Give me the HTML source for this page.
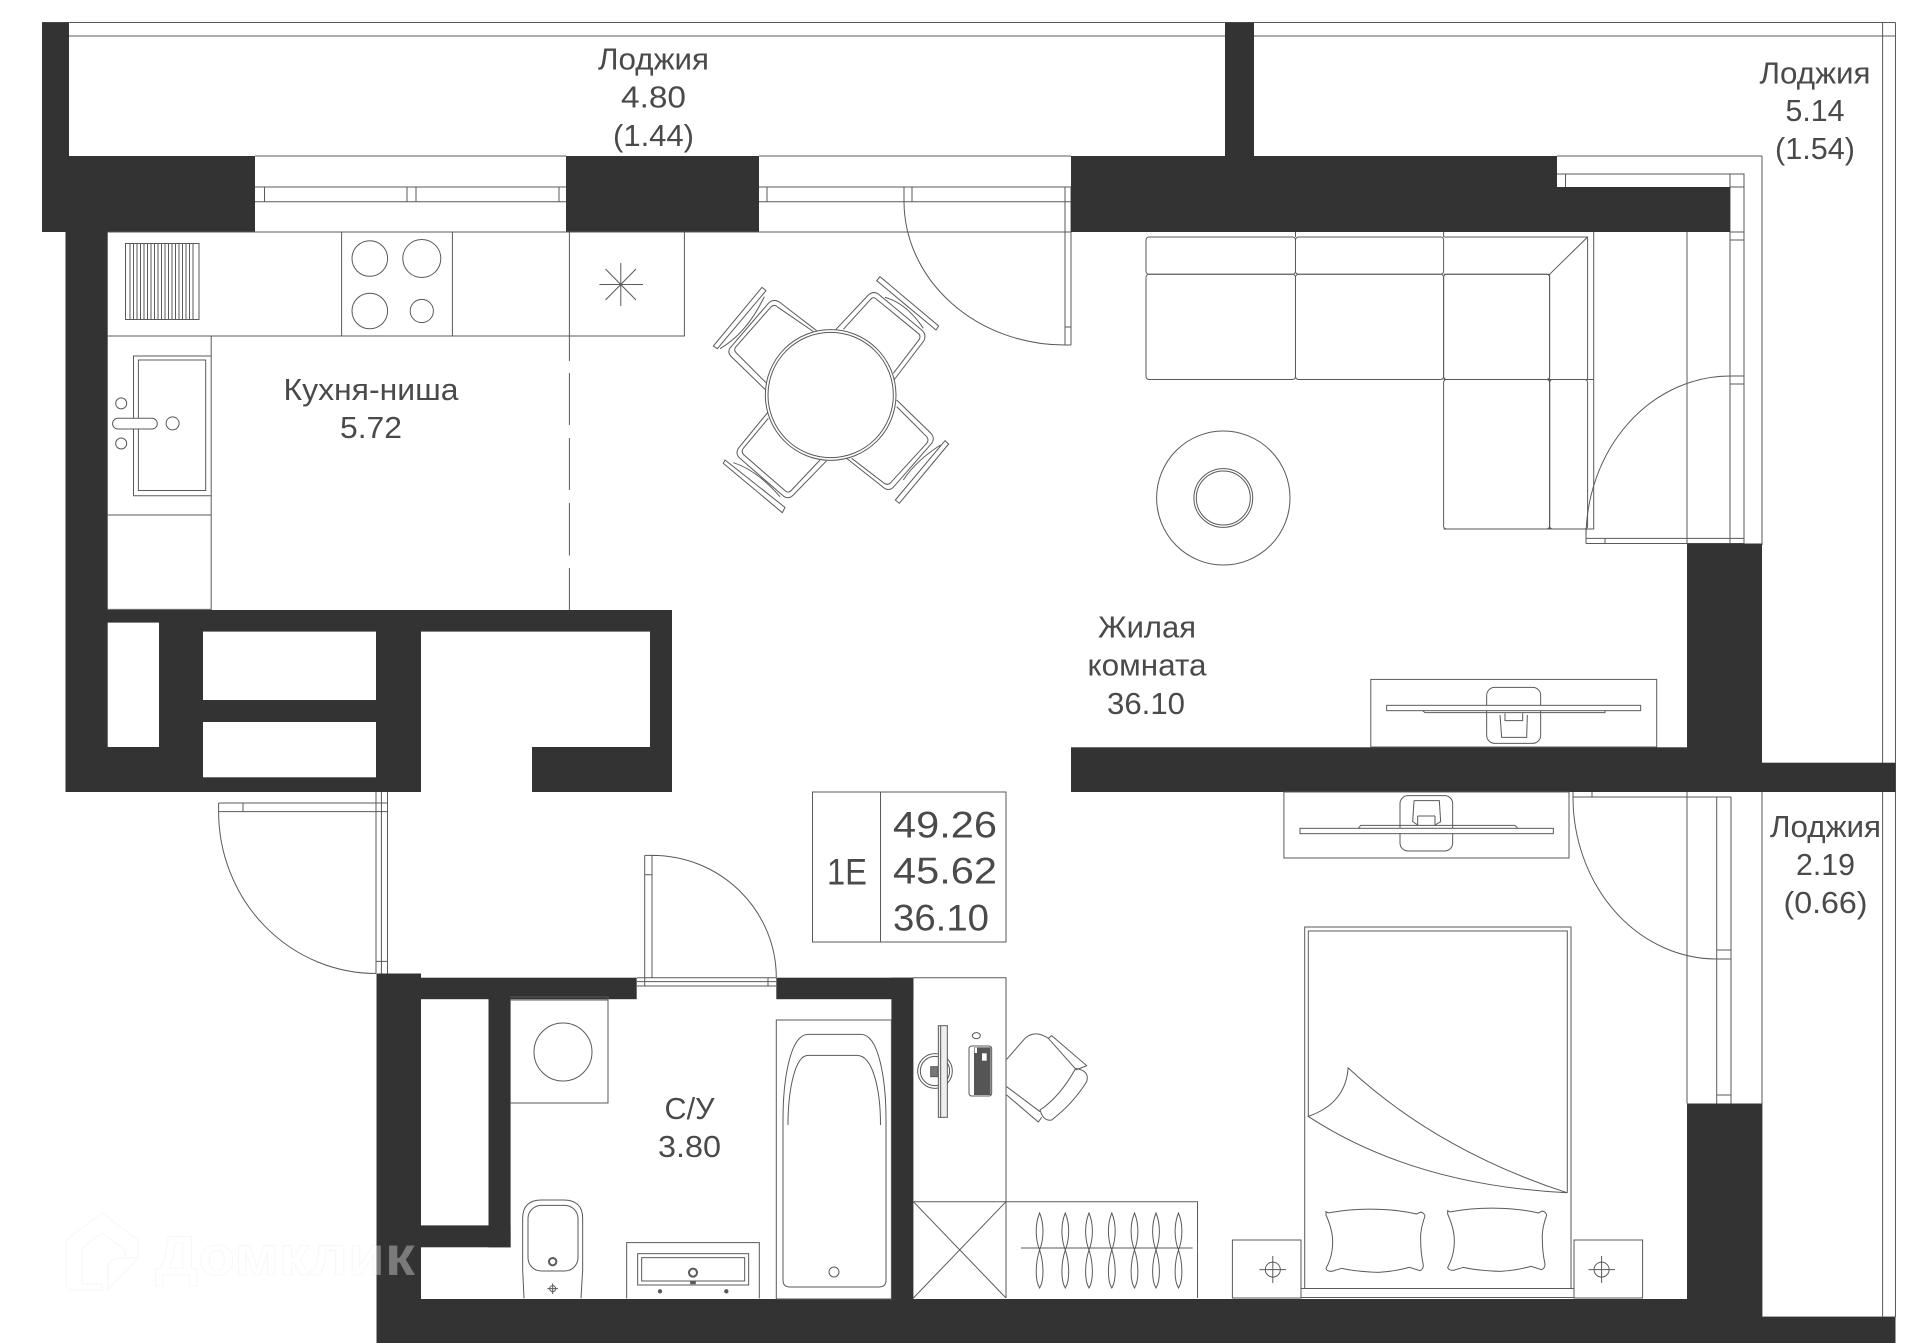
<!DOCTYPE html>
<html lang="ru"><head><meta charset="utf-8"><title>План квартиры</title>
<style>html,body{margin:0;padding:0;background:#fff}svg{display:block}
text{font-family:"Liberation Sans",sans-serif;font-size:30.5px;fill:#4a4a4a;text-anchor:middle}
.l{fill:none;stroke:#5a5a5a;stroke-width:1}.t{stroke-width:3}.w{fill:#333;stroke:none}</style></head><body>
<svg xmlns="http://www.w3.org/2000/svg" width="1920" height="1343" viewBox="0 0 1920 1343">
<rect width="1920" height="1343" fill="#fff"/>
<!-- loggia & window linework -->
<path class="l" d="M42 22.5H1895.5M42 36H1895.5M1882.6 22.5V1317M1895.5 22.5V1317M1762 792V1317H1895.5M1762 156V545M1557 156H1762M1557 174H1744V543.5M1730 174V543.5M1730 187H1744M1730 232H1744M1730 240H1744M1730 376H1744M1730 384H1744M1565.5 174V187M1687 232V543.5M1586 538.4H1744M1586 543.5H1744M1586 529V543.5M1605 538.4V543.5"/>
<path class="l" d="M255 156H566M759 156H1071M255 187H566M255 201.7H566M255 232H566M759 187H1071M759 201.7H1071M759 232H1071M264.5 187V201.7M407 187V201.7M416 187V201.7M559 187V201.7M767 187V201.7M904 187V201.7M912 187V201.7M1065 187V345M1071 187V345M1065 327H1071M1065 345H1071"/>
<path class="l" d="M904 201.7A161 144 0 0 0 1065 345M1730 376A144 162 0 0 0 1586 538M1716.7 959A143.7 162 0 0 1 1573 797"/>
<path class="l" d="M1687 792V1103.5M1716.7 797V1103.5M1731 797V1103.5M1573 792V797H1731M1592 792V797M1716.7 950H1731M1716.7 959H1731M1716.7 1095H1731"/>
<!-- entrance door -->
<path class="l" d="M376 792V973.5M381.4 792V973.5M387.5 792V973.5M376 961.4H387.5M218.6 803H387.5M218.6 811.6H387.5M218.6 803V811.6M243 803V811.6M218.6 811.6A157.4 162 0 0 0 376 973.5"/>
<!-- bathroom door -->
<path class="l" d="M644.7 855.4V977.7M652 855.4V977.7M644.7 855.4H652M644.7 874.7H652M637 977.7H776M637 981.6H776M637 986H776M644.7 977.7V986M768 977.7V986M652 855.4A124 122.3 0 0 1 776.3 977.7"/>
<!-- walls -->
<rect class="w" x="42" y="22.5" width="27" height="134"/>
<rect class="w" x="42" y="156" width="213" height="76"/>
<rect class="w" x="566" y="156" width="193" height="76"/>
<rect class="w" x="1225" y="22.5" width="29" height="134"/>
<rect class="w" x="1071" y="156" width="486" height="76"/>
<rect class="w" x="1557" y="187" width="173" height="45"/>
<rect class="w" x="65.5" y="232" width="42.2" height="378"/>
<rect class="w" x="65.5" y="610" width="355.5" height="182"/>
<rect x="107.7" y="622.6" width="51.3" height="124.4" fill="#fff"/>
<rect x="203" y="631.6" width="173" height="68.4" fill="#fff"/>
<rect x="203" y="722" width="173" height="55.3" fill="#fff"/>
<rect class="w" x="421" y="610" width="251" height="21.6"/>
<rect class="w" x="650" y="610" width="22" height="182"/>
<rect class="w" x="532" y="747" width="140" height="45"/>
<rect class="w" x="1071" y="747.3" width="691" height="44.7"/>
<rect class="w" x="1762" y="762.7" width="133.5" height="29.3"/>
<rect class="w" x="1687" y="543.5" width="75" height="204"/>
<rect class="w" x="1687" y="1103.5" width="75" height="196"/>
<rect class="w" x="376.5" y="1299" width="1385.5" height="44"/>
<rect class="w" x="1762" y="1317" width="133.5" height="26"/>
<rect class="w" x="376.5" y="973.5" width="44.5" height="326"/>
<rect class="w" x="421" y="977.7" width="215.7" height="21.5"/>
<rect class="w" x="776.3" y="977.7" width="137.1" height="21.5"/>
<rect class="w" x="891.4" y="977.7" width="22" height="321.3"/>
<rect class="w" x="488.5" y="999" width="22.1" height="248.3"/>
<rect class="w" x="421" y="1225.4" width="89.6" height="21.9"/>
<!-- kitchen -->
<path class="l" d="M107.7 232H1071M107.7 336H684.4V232M341.6 232V336M452.4 232V336M569.4 232V336"/>
<path class="l" d="M569.4 336V361M569.4 373V425M569.4 438V490M569.4 503V555.5M569.4 568V610"/>
<rect class="l" x="125.5" y="243.5" width="73.5" height="76"/>
<path class="l" d="M130 243.5V319.5M133.5 243.5V319.5M137 243.5V319.5M140.5 243.5V319.5M144 243.5V319.5M147.5 243.5V319.5M151 243.5V319.5M154.5 243.5V319.5M158 243.5V319.5M161.5 243.5V319.5M165 243.5V319.5M168.5 243.5V319.5M172 243.5V319.5M175.5 243.5V319.5M179 243.5V319.5M182.5 243.5V319.5M186 243.5V319.5M189.5 243.5V319.5M193 243.5V319.5"/>
<circle class="l" cx="369.8" cy="258.5" r="17.8"/><circle class="l" cx="421.8" cy="258.5" r="19"/><circle class="l" cx="369.8" cy="311" r="17.8"/><circle class="l" cx="421.8" cy="311" r="11.6"/>
<path class="l" d="M620.8 263V306M599.4 284.5H643M605.5 269L636 300M636 269L605.5 300"/>
<path class="l" d="M211.2 336V610M107.7 515H211.2M107.7 609.4H211.2M133.5 356H211.2V495.7H133.5ZM138.4 360H205.7V490.5H138.4Z"/>
<circle class="l" cx="121.2" cy="403.4" r="5.5"/><circle class="l" cx="121.2" cy="443.5" r="5.5"/><circle class="l" cx="172.6" cy="423.4" r="6.5"/>
<rect class="l" x="112.6" y="418.3" width="44.7" height="10.7" rx="5.3" fill="#fff" style="fill:#fff"/>
<!-- table and chairs -->
<g transform="translate(700 270) scale(.33333)" class="l t" style="stroke-width:3;fill:none;stroke:#5a5a5a">
<path d="M195 358L92 258Q82 246 90 234L205 100Q220 85 238 96L350 182M200 340L108 248Q100 240 108 230L212 112Q222 100 234 112L342 186M186 52L198 62L52 236L40 228ZM193 80Q140 190 60 236"/>
<path d="M408 178L505 75Q520 62 535 72L665 180Q680 192 672 212L582 330M430 178L512 88Q520 78 530 88L652 188Q664 196 658 208L580 310M540 20L716 168L708 180L530 32ZM555 82Q620 100 670 175"/>
<path d="M590 390L695 492Q705 506 695 520L580 652Q565 665 550 652L440 565M590 410L680 500Q688 510 680 520L572 638Q562 648 550 638L455 565M735 512L746 522L598 700L586 690ZM722 525Q650 570 610 630"/>
<path d="M205 425L115 535Q105 552 120 565L250 678Q265 690 280 675L380 572M205 445L130 535Q122 545 132 555L255 662Q265 672 275 660L360 570M75 570L255 712L247 728L70 580ZM100 578Q170 600 240 680"/>
<circle cx="392" cy="375" r="196" style="fill:#fff"/><circle cx="392" cy="375" r="188"/>
</g>
<!-- sofa -->
<path class="l" d="M1593.7 232V529H1443.6M1295.5 232V237M1443.6 232V237"/>
<g class="l">
<rect x="1146" y="237" width="149.5" height="37.3" rx="3"/><rect x="1295.5" y="237" width="148.1" height="37.3" rx="3"/>
<path d="M1443.6 237H1587.6V379.5M1443.6 274.3H1549.6L1587.6 237M1549.6 274.3V529"/>
<rect x="1146" y="274.3" width="149.5" height="105.2" rx="3"/><rect x="1295.5" y="274.3" width="148.1" height="105.2" rx="3"/>
<rect x="1443.6" y="274.3" width="106" height="105.2" rx="3"/><rect x="1549.6" y="379.5" width="38" height="149.5" rx="3"/>
<rect x="1443.6" y="379.5" width="106" height="149.5" rx="3"/>
<path d="M1443.6 379.5H1593.7"/>
<ellipse cx="1223.3" cy="498" rx="66.7" ry="67"/><circle cx="1223.3" cy="498" r="29.4"/><circle cx="1223.3" cy="498" r="27"/>
</g>
<!-- TVs -->
<rect class="l" x="1370.8" y="679.4" width="285.9" height="67.6"/>
<rect class="l" x="1283.9" y="792" width="285.1" height="66"/>
<g transform="translate(1370 680) scale(.33333)" style="fill:none;stroke:#5a5a5a;stroke-width:3">
<rect x="350" y="22" width="162" height="168" rx="24"/>
<path d="M405 100V122H458V100M390 105L395 172H470L472 105"/>
<rect x="50" y="76" width="762" height="16" style="fill:#fff"/>
<path d="M158 92L165 98H705V92"/>
<rect x="90" y="347" width="158" height="166" rx="24"/>
<path d="M132 362H208L212 425L195 435M132 362L128 425L143 435M143 408H195M143 408V437M195 408V437"/>
<rect x="-210" y="445" width="760" height="16" style="fill:#fff"/>
<path d="M-35 445L-28 436H435L443 445"/>
</g>
<!-- plaque -->
<path class="l" d="M812.5 792H1006V942H812.5ZM880.5 792V942"/>
<!-- bathroom -->
<path class="l" d="M510 997H608V1103H510M510 1000H608"/>
<circle class="l" cx="563" cy="1052" r="29"/>
<rect class="l" x="776.3" y="1020" width="115.1" height="279"/>
<path class="l" d="M783 1280V1120C783 1080 790 1034.4 808 1034.4H861C879 1034.4 886 1080 886 1120V1280Q886 1287 879 1287H790Q783 1287 783 1280ZM788 1125C788 1090 795 1055.4 808 1055.4H857C873 1055.4 880.5 1090 880.5 1125"/>
<circle class="l" cx="834" cy="1272" r="5"/>
<g transform="translate(500 1190) scale(.33333)" style="fill:none;stroke:#5a5a5a;stroke-width:3">
<path d="M72 325L68 240V85Q68 30 125 30H190Q248 30 248 85V240L243 325"/>
<rect x="84" y="46" width="150" height="197" rx="40"/>
<circle cx="158" cy="215" r="11" style="stroke-width:6"/>
<circle cx="158" cy="296" r="9"/><path d="M158 280V312M142 296H174"/>
<path d="M380 325V158H778V325"/>
<rect x="413" y="191" width="333" height="94"/><rect x="425" y="203" width="309" height="70"/>
<circle cx="579" cy="248" r="12" style="stroke-width:6"/>
<rect x="572" y="274" width="14" height="7" style="fill:#5a5a5a"/>
<circle cx="480" cy="304" r="5" style="fill:#5a5a5a"/><circle cx="679" cy="304" r="5" style="fill:#5a5a5a"/>
</g>
<!-- desk -->
<path class="l" d="M913.4 977.7H1006V1298M913.4 1201.7H1197.5V1298M913.4 1201.7L1006 1298M1006 1201.7L913.4 1298"/>
<g transform="translate(900 1000) scale(.33333)" style="fill:none;stroke:#5a5a5a;stroke-width:3">
<circle cx="105" cy="213" r="52"/><circle cx="105" cy="213" r="44"/>
<rect x="92" y="200" width="22" height="30" style="fill:#777"/>
<rect x="115" y="77" width="27" height="275" style="fill:#eee"/><path d="M122 77V352"/>
<ellipse cx="229" cy="107" rx="12" ry="9"/>
<rect x="207" y="138" width="68" height="150" rx="8" style="fill:#fff"/>
<rect x="222" y="142" width="50" height="143" style="fill:#555;stroke:none"/>
<rect x="224" y="143" width="7" height="16" style="fill:#fff;stroke:none"/><rect x="246" y="160" width="14" height="22" style="fill:#fff;stroke:none"/>
<path d="M320 178L375 115Q405 88 445 115L525 205M320 260L420 335M445 115L455 107L560 197L527 210M320 285L415 366L425 352"/>
<path d="M527 205Q570 212 560 245Q520 310 455 360Q430 365 420 330Q480 290 527 205Z"/>
</g>
<!-- wardrobe hangers -->
<path class="l" d="M1021 1248H1192.6"/>
<g class="l">
<path d="M1039.6 1213C1044.6 1225 1043.6 1240 1039.6 1250C1035.6 1262 1034.6 1280 1039.6 1288C1044.6 1280 1043.6 1262 1039.6 1250C1035.6 1240 1034.6 1225 1039.6 1213Z"/>
<path d="M1065.3 1213C1070.3 1225 1069.3 1240 1065.3 1250C1061.3 1262 1060.3 1280 1065.3 1288C1070.3 1280 1069.3 1262 1065.3 1250C1061.3 1240 1060.3 1225 1065.3 1213Z"/>
<path d="M1089 1213C1094 1225 1093 1240 1089 1250C1085 1262 1084 1280 1089 1288C1094 1280 1093 1262 1089 1250C1085 1240 1084 1225 1089 1213Z"/>
<path d="M1111.8 1213C1116.8 1225 1115.8 1240 1111.8 1250C1107.8 1262 1106.8 1280 1111.8 1288C1116.8 1280 1115.8 1262 1111.8 1250C1107.8 1240 1106.8 1225 1111.8 1213Z"/>
<path d="M1134.5 1213C1139.5 1225 1138.5 1240 1134.5 1250C1130.5 1262 1129.5 1280 1134.5 1288C1139.5 1280 1138.5 1262 1134.5 1250C1130.5 1240 1129.5 1225 1134.5 1213Z"/>
<path d="M1156 1213C1161 1225 1160 1240 1156 1250C1152 1262 1151 1280 1156 1288C1161 1280 1160 1262 1156 1250C1152 1240 1151 1225 1156 1213Z"/>
<path d="M1178.5 1213C1183.5 1225 1182.5 1240 1178.5 1250C1174.5 1262 1173.5 1280 1178.5 1288C1183.5 1280 1182.5 1262 1178.5 1250C1174.5 1240 1173.5 1225 1178.5 1213Z"/>
</g>
<!-- bed -->
<path class="l" d="M1304.7 1288.5V927H1571V1288.5M1308.3 1116.4V931H1567.3V1192.8M1301 1288.5H1574M1301 1297.5H1574M1308.3 1116.4Q1345.7 1103.5 1348.1 1067.9Q1437.5 1150.7 1567.3 1192.8Q1413 1185 1308.3 1116.4Z"/>
<rect class="l" x="1232.4" y="1240" width="68.6" height="58"/><rect class="l" x="1574" y="1240" width="68.6" height="58"/>
<circle class="l" cx="1272.8" cy="1269.6" r="7.5"/><path class="l" d="M1272.8 1256V1283M1259.5 1269.6H1286"/>
<circle class="l" cx="1601.6" cy="1269.6" r="7.5"/><path class="l" d="M1601.6 1256V1283M1588.5 1269.6H1615"/>
<g transform="translate(1320 1200) scale(.33333)" style="fill:none;stroke:#5a5a5a;stroke-width:3">
<path d="M18 35Q25 40 30 38Q100 25 180 28Q240 30 290 42L302 36Q312 38 315 48Q300 90 302 120Q302 160 310 195Q310 208 300 212L268 202Q220 215 175 217Q110 215 65 205L35 214Q20 214 18 205Q38 170 38 125Q38 90 18 45Z"/>
<path transform="translate(365 -3)" d="M18 35Q25 40 30 38Q100 25 180 28Q240 30 290 42L302 36Q312 38 315 48Q300 90 302 120Q302 160 310 195Q310 208 300 212L268 202Q220 215 175 217Q110 215 65 205L35 214Q20 214 18 205Q38 170 38 125Q38 90 18 45Z"/>
</g>
<!-- labels -->
<text x="653.5" y="69.6" textLength="111" lengthAdjust="spacingAndGlyphs">Лоджия</text>
<text x="653.5" y="107.7" textLength="65" lengthAdjust="spacingAndGlyphs">4.80</text>
<text x="653.5" y="146" textLength="81" lengthAdjust="spacingAndGlyphs">(1.44)</text>
<text x="371" y="400" textLength="175" lengthAdjust="spacingAndGlyphs">Кухня-ниша</text>
<text x="371" y="438" textLength="62" lengthAdjust="spacingAndGlyphs">5.72</text>
<text x="1815" y="83.5" textLength="111" lengthAdjust="spacingAndGlyphs">Лоджия</text>
<text x="1815" y="121" textLength="59" lengthAdjust="spacingAndGlyphs">5.14</text>
<text x="1815" y="159" textLength="80" lengthAdjust="spacingAndGlyphs">(1.54)</text>
<text x="1147" y="637.5" textLength="98" lengthAdjust="spacingAndGlyphs">Жилая</text>
<text x="1147" y="675.7" textLength="119" lengthAdjust="spacingAndGlyphs">комната</text>
<text x="1146" y="713.9" textLength="78" lengthAdjust="spacingAndGlyphs">36.10</text>
<text x="1825.5" y="837" textLength="111" lengthAdjust="spacingAndGlyphs">Лоджия</text>
<text x="1825.5" y="875" textLength="59" lengthAdjust="spacingAndGlyphs">2.19</text>
<text x="1825.5" y="913" textLength="84" lengthAdjust="spacingAndGlyphs">(0.66)</text>
<text x="689.5" y="1119" textLength="50" lengthAdjust="spacingAndGlyphs">С/У</text>
<text x="689.5" y="1157" textLength="63" lengthAdjust="spacingAndGlyphs">3.80</text>
<text x="847" y="884.6" style="font-size:37px" textLength="40" lengthAdjust="spacingAndGlyphs">1E</text>
<text x="945" y="837.4" style="font-size:37px" textLength="104" lengthAdjust="spacingAndGlyphs">49.26</text>
<text x="945" y="883.7" style="font-size:37px" textLength="104" lengthAdjust="spacingAndGlyphs">45.62</text>
<text x="941" y="930.5" style="font-size:37px" textLength="96" lengthAdjust="spacingAndGlyphs">36.10</text>
<!-- watermark -->
<path d="M102 1213L66 1240V1284Q66 1290 72 1290H102V1284H82V1248L102 1233L125 1250V1258H138V1240ZM108 1290V1266Q108 1258 125 1258H138Z" fill="rgba(255,255,255,.35)" stroke="rgba(0,0,0,.035)"/>
<text x="285" y="1275" textLength="260" lengthAdjust="spacingAndGlyphs" style="font-size:56px;font-weight:bold;fill:rgba(255,255,255,.35);stroke:rgba(0,0,0,.03)">Домклик</text>
</svg></body></html>
